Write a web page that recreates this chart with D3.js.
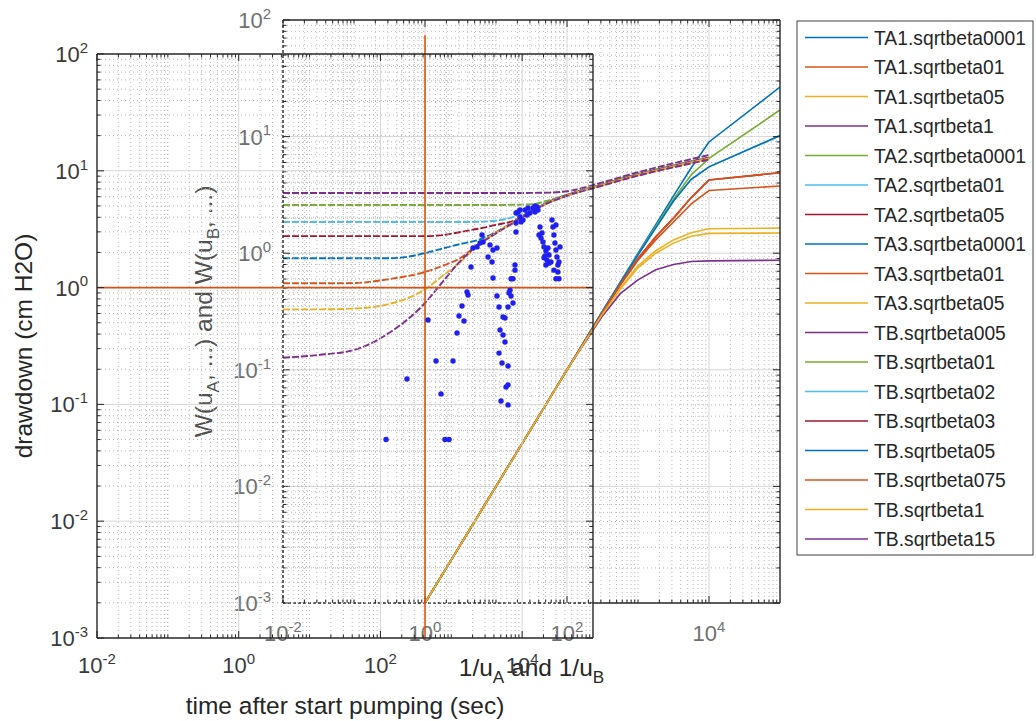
<!DOCTYPE html>
<html><head><meta charset="utf-8">
<script src="https://cdn.jsdelivr.net/npm/d3@7"></script>
<style>
body{margin:0;background:#fff}
svg{display:block}
text{font-family:"Liberation Sans",Arial,Helvetica,sans-serif}
</style>
</head><body>
<svg id="c" width="1036" height="721"></svg>
<script>
// ---------- data ----------
// Type A curves: W(u_A, beta) vs 1/u_A
const uA = [1, 10, 100, 316, 562, 1000, 1778, 3162, 5623, 10000, 100000];
const TA1_sqrtbeta0001 = [0.001, 0.01, 0.1, 0.316, 0.562, 1.0, 1.76, 3.1, 5.4, 9.0, 26.6];
const TA1_sqrtbeta01   = [0.001, 0.01, 0.1, 0.31, 0.53, 0.87, 1.3, 1.85, 2.65, 3.45, 3.77];
const TA1_sqrtbeta05   = [0.001, 0.01, 0.1, 0.30, 0.50, 0.78, 1.05, 1.3, 1.5, 1.62, 1.64];
const TA1_sqrtbeta1    = [0.001, 0.01, 0.1, 0.29, 0.45, 0.59, 0.72, 0.8, 0.85, 0.86, 0.87];
const TA2_sqrtbeta0001 = [0.001, 0.01, 0.1, 0.316, 0.56, 0.98, 1.7, 2.9, 4.7, 6.5, 16.9];
const TA2_sqrtbeta01   = [0.001, 0.01, 0.1, 0.316, 0.56, 0.97, 1.65, 2.8, 4.3, 5.5, 10.2];
const TA2_sqrtbeta05   = [0.001, 0.01, 0.1, 0.31, 0.54, 0.9, 1.38, 2.0, 3.0, 4.25, 4.9];
const TA3_sqrtbeta0001 = [0.001, 0.01, 0.1, 0.316, 0.56, 0.97, 1.65, 2.8, 4.3, 5.5, 10.2];
const TA3_sqrtbeta01   = [0.001, 0.01, 0.1, 0.31, 0.54, 0.9, 1.38, 2.0, 3.0, 4.25, 4.9];
const TA3_sqrtbeta05   = [0.001, 0.01, 0.1, 0.30, 0.49, 0.75, 1.0, 1.22, 1.4, 1.48, 1.49];

// Type B curves: W(u_B, beta) vs 1/u_B
const uB = [0.01, 0.0316, 0.1, 0.316, 1, 1.78, 3.16, 5.62, 10, 17.8, 31.6, 56.2, 100, 316, 1000, 3162, 10000];
const TB_sqrtbeta005 = [3.28, 3.28, 3.28, 3.28, 3.28, 3.28, 3.28, 3.28, 3.28, 3.28, 3.29, 3.31, 3.4, 4.05, 4.95, 5.9, 6.95];
const TB_sqrtbeta01  = [2.59, 2.59, 2.59, 2.59, 2.59, 2.59, 2.59, 2.59, 2.59, 2.6, 2.63, 2.85, 3.18, 3.9, 4.78, 5.65, 6.6];
const TB_sqrtbeta02  = [1.85, 1.85, 1.85, 1.85, 1.85, 1.85, 1.85, 1.86, 1.9, 2.05, 2.35, 2.78, 3.15, 3.88, 4.75, 5.62, 6.6];
const TB_sqrtbeta03  = [1.4, 1.4, 1.4, 1.4, 1.4, 1.43, 1.52, 1.62, 1.75, 1.9, 2.3, 2.75, 3.15, 3.88, 4.75, 5.62, 6.6];
const TB_sqrtbeta05  = [0.904, 0.904, 0.904, 0.904, 1.0, 1.1, 1.2, 1.3, 1.52, 1.86, 2.3, 2.75, 3.15, 3.88, 4.75, 5.6, 6.55];
const TB_sqrtbeta075 = [0.552, 0.552, 0.555, 0.6, 0.69, 0.78, 0.91, 1.2, 1.5, 1.85, 2.3, 2.75, 3.12, 3.85, 4.7, 5.55, 6.5];
const TB_sqrtbeta1   = [0.33, 0.33, 0.335, 0.367, 0.49, 0.64, 0.84, 1.18, 1.5, 1.85, 2.3, 2.74, 3.12, 3.85, 4.7, 5.55, 6.5];
const TB_sqrtbeta15  = [0.127, 0.134, 0.148, 0.208, 0.374, 0.57, 0.86, 1.17, 1.48, 1.83, 2.28, 2.72, 3.1, 3.8, 4.62, 5.45, 6.35];

// Measured drawdown (cm H2O) vs time after start pumping (sec)
const obsTime = [120, 815, 930, 237, 609, 1058, 716, 469, 1205, 1285, 1513, 1416, 1722, 1667, 1898, 2027, 2308, 2716, 2806, 2547,
  3518, 3878, 4416, 3305, 3760, 3878, 4416, 4718, 5373, 5731, 4875, 5373, 5731, 4718, 5200, 6324, 5930, 6324, 5035, 6324,
  6324, 6745, 6966, 6531, 6966, 7430, 7925, 7925, 7430,
  8190, 8750, 9330, 10280, 11720, 12910, 14230, 16220, 15200, 16750, 11000, 9640, 8190, 8190, 9330, 12100, 15200,
  17870, 19070, 18450, 19680, 20330, 21680, 21000, 22390, 23920, 20330, 17300, 23920, 25530, 21680, 23170,
  26360, 27230, 28120, 29040, 30000, 30980, 32000, 32000, 33110, 30000, 30000, 33110, 34200, 28120];
const obsDrawdown = [0.05, 0.05, 0.05, 0.165, 0.235, 0.235, 0.123, 0.528, 0.409, 0.571, 0.518, 0.696, 0.864, 0.917, 1.50, 2.18, 2.23, 2.82, 2.46, 2.41,
  2.32, 2.10, 2.18, 1.83, 1.66, 1.21, 0.848, 0.682, 0.560, 0.55, 0.434, 0.393, 0.342, 0.275, 0.226, 0.213, 0.141, 0.147, 0.107, 0.099,
  0.682, 0.95, 0.848, 0.90, 1.19, 1.19, 1.41, 1.56, 0.738,
  4.35, 4.44, 4.02, 3.79, 4.19, 4.35, 4.80, 4.90, 4.44, 4.62, 4.62, 3.65, 3.57, 2.99, 4.62, 4.80, 5.0,
  3.30, 2.94, 2.66, 2.46, 2.23, 2.06, 1.87, 1.72, 1.62, 1.80, 2.82, 1.90, 1.66, 1.56, 2.18,
  3.79, 3.30, 2.82, 2.41, 2.10, 1.83, 1.56, 1.36, 1.19, 1.19, 3.44, 1.66, 2.23, 1.41];

// reference lines (drawdown axes)
const refDrawdown = 1;            // horizontal line
const refTime = 426;              // vertical line time
const refTimeSpan = [0.001, 145]; // vertical extent

const xTickVals = [1e-2, 1e0, 1e2, 1e4];
const xTickExp = ["-2", "0", "2", "4"];
const yTickVals = [1e-3, 1e-2, 1e-1, 1e0, 1e1, 1e2];
const yTickExp = ["-3", "-2", "-1", "0", "1", "2"];

const seriesNames = ["TA1.sqrtbeta0001","TA1.sqrtbeta01","TA1.sqrtbeta05","TA1.sqrtbeta1",
  "TA2.sqrtbeta0001","TA2.sqrtbeta01","TA2.sqrtbeta05",
  "TA3.sqrtbeta0001","TA3.sqrtbeta01","TA3.sqrtbeta05",
  "TB.sqrtbeta005","TB.sqrtbeta01","TB.sqrtbeta02","TB.sqrtbeta03","TB.sqrtbeta05","TB.sqrtbeta075","TB.sqrtbeta1","TB.sqrtbeta15"];
const seriesValues = [TA1_sqrtbeta0001, TA1_sqrtbeta01, TA1_sqrtbeta05, TA1_sqrtbeta1,
  TA2_sqrtbeta0001, TA2_sqrtbeta01, TA2_sqrtbeta05,
  TA3_sqrtbeta0001, TA3_sqrtbeta01, TA3_sqrtbeta05,
  TB_sqrtbeta005, TB_sqrtbeta01, TB_sqrtbeta02, TB_sqrtbeta03, TB_sqrtbeta05, TB_sqrtbeta075, TB_sqrtbeta1, TB_sqrtbeta15];
const colorOrder = ["#0072BD","#D95319","#EDB120","#7E2F8E","#77AC30","#4DBEEE","#A2142F"];

// ---------- layout ----------
const svg = d3.select("#c");
svg.append("rect").attr("width",1036).attr("height",721).attr("fill","#fff");
const A = {x0:97, x1:593, y0:54, y1:638};
const B = {x0:283, x1:780, y0:20, y1:603};
const xA = d3.scaleLog().domain([1e-2,1e5]).range([A.x0,A.x1]);
const yA = d3.scaleLog().domain([1e-3,1e2]).range([A.y1,A.y0]);
const xB = d3.scaleLog().domain([1e-2,1e5]).range([B.x0,B.x1]);
const yB = d3.scaleLog().domain([1e-3,1e2]).range([B.y1,B.y0]);

const TICK_FS = 22, LABEL_FS = 24.5, LEG_FS = 19.3;
const AX = "#262626";

function minorVals(lo, hi, majors) {
  const out = [];
  for (let d = Math.floor(Math.log10(lo)); d <= Math.ceil(Math.log10(hi)); d++)
    for (let k = 1; k <= 9; k++) {
      const v = +(k * Math.pow(10, d)).toPrecision(6);
      if (v > lo * 1.0001 && v < hi * 0.9999 && !majors.some(m => Math.abs(m - v) / m < 1e-6)) out.push(v);
    }
  return out;
}

function drawGrid(g, x, y) {
  const [xl, xh] = x.domain(), [yl, yh] = y.domain();
  const [px0, px1] = x.range(), [py1, py0] = y.range();
  const mx = minorVals(xl, xh, xTickVals), my = minorVals(yl, yh, yTickVals);
  g.selectAll(null).data(mx).join("line")
    .attr("x1", d => x(d)).attr("x2", d => x(d)).attr("y1", py0).attr("y2", py1)
    .attr("stroke", "#b8b8b8").attr("stroke-width", 1).attr("stroke-dasharray", "1,3");
  g.selectAll(null).data(my).join("line")
    .attr("y1", d => y(d)).attr("y2", d => y(d)).attr("x1", px0).attr("x2", px1)
    .attr("stroke", "#b8b8b8").attr("stroke-width", 1).attr("stroke-dasharray", "1,3");
  g.selectAll(null).data(xTickVals.filter(v => v > xl && v < xh)).join("line")
    .attr("x1", d => x(d)).attr("x2", d => x(d)).attr("y1", py0).attr("y2", py1)
    .attr("stroke", "#d6d6d6").attr("stroke-width", 1);
  g.selectAll(null).data(yTickVals.filter(v => v > yl && v < yh)).join("line")
    .attr("y1", d => y(d)).attr("y2", d => y(d)).attr("x1", px0).attr("x2", px1)
    .attr("stroke", "#d6d6d6").attr("stroke-width", 1);
}

function drawTicks(g, x, y) {
  const [xl, xh] = x.domain(), [yl, yh] = y.domain();
  const [px0, px1] = x.range(), [py1, py0] = y.range();
  const mx = minorVals(xl, xh, xTickVals), my = minorVals(yl, yh, yTickVals);
  const seg = (x1, y1, x2, y2) => g.append("line").attr("x1",x1).attr("y1",y1).attr("x2",x2).attr("y2",y2)
      .attr("stroke", AX).attr("stroke-width", 1);
  xTickVals.forEach(v => { const p = x(v); seg(p, py1, p, py1 - 7); seg(p, py0, p, py0 + 7); });
  mx.forEach(v => { const p = x(v); seg(p, py1, p, py1 - 3.5); seg(p, py0, p, py0 + 3.5); });
  yTickVals.forEach(v => { const p = y(v); seg(px0, p, px0 + 7, p); seg(px1, p, px1 - 7, p); });
  my.forEach(v => { const p = y(v); seg(px0, p, px0 + 3.5, p); seg(px1, p, px1 - 3.5, p); });
}

function powLabel(g, px, py, exp, anchor, color) {
  const t = g.append("text").attr("x", px).attr("y", py).attr("text-anchor", anchor)
    .attr("font-size", TICK_FS).attr("fill", color);
  t.append("tspan").text("10");
  t.append("tspan").attr("dy", -TICK_FS * 0.42).attr("font-size", TICK_FS * 0.68).text(exp);
}

// ---------- axes B (type curves) ----------
const gB = svg.append("g");
drawGrid(gB, xB, yB);
svg.append("clipPath").attr("id","clipB").append("rect")
  .attr("x",B.x0).attr("y",B.y0).attr("width",B.x1-B.x0).attr("height",B.y1-B.y0);
const curvesB = gB.append("g").attr("clip-path","url(#clipB)");
seriesNames.forEach((name, i) => {
  const isA = name.startsWith("TA");
  const xs = isA ? uA : uB;
  const vals = seriesValues[i];
  const pts = xs.map((u, j) => [u, vals[j]]);
  const line = d3.line().x(d => xB(d[0])).y(d => yB(d[1]))
    .curve(isA ? d3.curveLinear : d3.curveMonotoneX);
  curvesB.append("path").attr("d", line(pts)).attr("fill","none")
    .attr("stroke", colorOrder[i % 7]).attr("stroke-width", isA ? 1.6 : 1.9)
    .attr("stroke-dasharray", isA ? null : "7,2");
});
drawTicks(gB, xB, yB);
// frame B
const fr = (g, x1, y1, x2, y2, dash) => g.append("line").attr("x1",x1).attr("y1",y1).attr("x2",x2).attr("y2",y2)
  .attr("stroke", AX).attr("stroke-width", 1.4).attr("stroke-dasharray", dash || null);
fr(gB, B.x0, B.y0, B.x1, B.y0);
fr(gB, B.x1, B.y0, B.x1, B.y1);
fr(gB, A.x1, B.y1, B.x1, B.y1);
fr(gB, B.x0, B.y1, A.x1, B.y1, "3,2");
fr(gB, B.x0, B.y0, B.x0, B.y1, "3,2");
// tick labels B
xTickVals.forEach((v, i) => powLabel(gB, xB(v), B.y1 + 38, xTickExp[i], "middle", "#707070"));
yTickVals.forEach((v, i) => powLabel(gB, B.x0 - 12, yB(v) + 8, yTickExp[i], "end", "#707070"));
// axis labels B
const xlB = gB.append("text").attr("x", (B.x0 + B.x1) / 2).attr("y", 676).attr("text-anchor","middle")
  .attr("font-size", LABEL_FS).attr("fill", AX);
xlB.append("tspan").text("1/u");
xlB.append("tspan").attr("dy", 7).attr("font-size", LABEL_FS * 0.7).text("A");
xlB.append("tspan").attr("dy", -7).text(" and 1/u");
xlB.append("tspan").attr("dy", 7).attr("font-size", LABEL_FS * 0.7).text("B");
const ylB = gB.append("text").attr("transform", `translate(212,${(B.y0 + B.y1) / 2}) rotate(-90)`)
  .attr("text-anchor","middle").attr("font-size", LABEL_FS).attr("fill", "#505050");
ylB.append("tspan").text("W(u");
ylB.append("tspan").attr("dy", 7).attr("font-size", LABEL_FS * 0.7).text("A");
ylB.append("tspan").attr("dy", -7).text(", ...) and W(u");
ylB.append("tspan").attr("dy", 7).attr("font-size", LABEL_FS * 0.7).text("B");
ylB.append("tspan").attr("dy", -7).text(", ...)");

// ---------- axes A (measured drawdown) ----------
const gA = svg.append("g");
drawGrid(gA, xA, yA);
gA.append("line").attr("x1", xA(1e-2)).attr("x2", xA(1e5)).attr("y1", yA(refDrawdown)).attr("y2", yA(refDrawdown))
  .attr("stroke", "#D95319").attr("stroke-width", 1.6);
gA.append("line").attr("x1", xA(refTime)).attr("x2", xA(refTime)).attr("y1", yA(refTimeSpan[0])).attr("y2", yA(refTimeSpan[1]))
  .attr("stroke", "#D95319").attr("stroke-width", 1.6);
svg.append("clipPath").attr("id","clipA").append("rect")
  .attr("x",A.x0).attr("y",A.y0).attr("width",A.x1-A.x0).attr("height",A.y1-A.y0);
gA.append("g").attr("clip-path","url(#clipA)").selectAll("circle")
  .data(obsTime.map((t, i) => [t, obsDrawdown[i]])).join("circle")
  .attr("cx", d => xA(d[0])).attr("cy", d => yA(d[1])).attr("r", 2.7).attr("fill", "#1f1ff2");
drawTicks(gA, xA, yA);
fr(gA, A.x0, A.y0, A.x1, A.y0);
fr(gA, A.x1, A.y0, A.x1, A.y1);
fr(gA, A.x0, A.y1, A.x1, A.y1);
fr(gA, A.x0, A.y0, A.x0, A.y1);
xTickVals.forEach((v, i) => powLabel(gA, xA(v), A.y1 + 35, xTickExp[i], "middle", "#3a3a3a"));
yTickVals.forEach((v, i) => powLabel(gA, A.x0 - 9, yA(v) + 8, yTickExp[i], "end", "#3a3a3a"));
gA.append("text").attr("x", (A.x0 + A.x1) / 2).attr("y", 714).attr("text-anchor","middle")
  .attr("font-size", LABEL_FS).attr("fill", AX).text("time after start pumping (sec)");
gA.append("text").attr("transform", `translate(32,${(A.y0 + A.y1) / 2}) rotate(-90)`).attr("text-anchor","middle")
  .attr("font-size", LABEL_FS).attr("fill", AX).text("drawdown (cm H2O)");

// ---------- legend ----------
const leg = svg.append("g");
leg.append("rect").attr("x", 797).attr("y", 21).attr("width", 236).attr("height", 534)
  .attr("fill", "#fff").attr("stroke", "#404040").attr("stroke-width", 1);
seriesNames.forEach((name, i) => {
  const yy = 37.5 + i * 29.5;
  leg.append("line").attr("x1", 805).attr("x2", 868).attr("y1", yy).attr("y2", yy)
    .attr("stroke", colorOrder[i % 7]).attr("stroke-width", 1.6);
  leg.append("text").attr("x", 874).attr("y", yy + 7).attr("font-size", LEG_FS).attr("fill", "#262626").text(name);
});
</script>
</body></html>
